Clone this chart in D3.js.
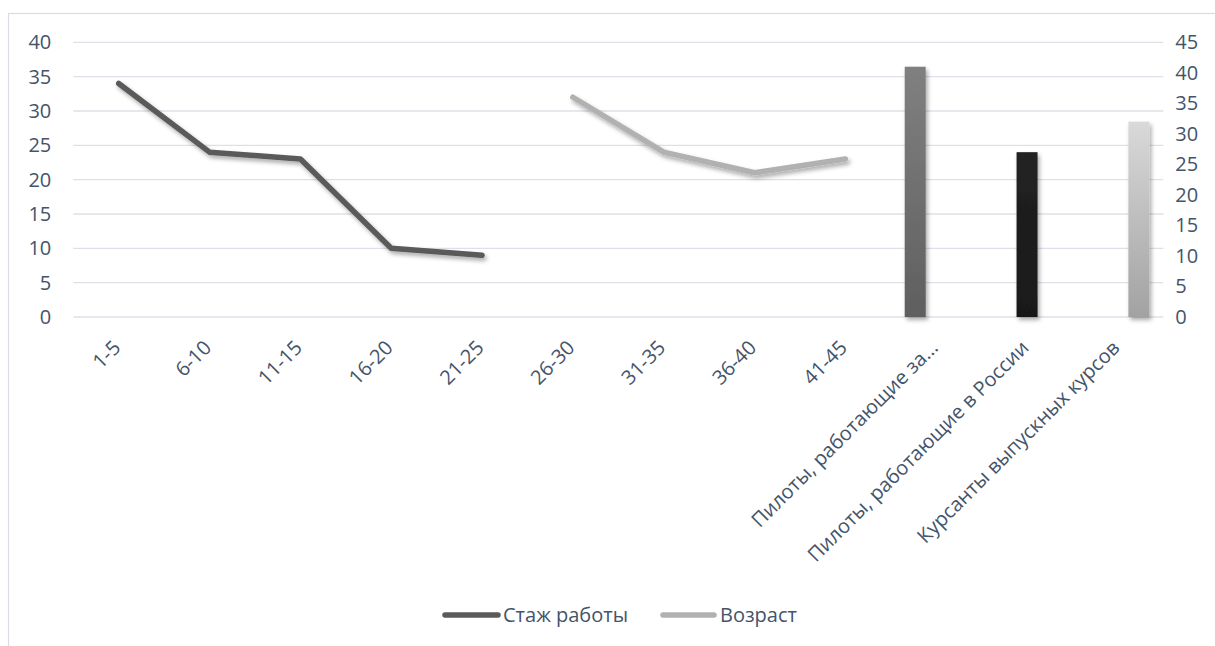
<!DOCTYPE html>
<html>
<head>
<meta charset="utf-8">
<script src="https://cdn.jsdelivr.net/npm/d3@7/dist/d3.min.js"></script>
<style>
  html, body { margin: 0; padding: 0; background: #fff; }
  svg { display: block; font-family: "Open Sans", "Noto Sans", sans-serif; }
</style>
</head>
<body>
<svg id="chart" width="1215" height="646"></svg>
<script>
// Categories along the shared horizontal axis
const categories = [
  "1-5", "6-10", "11-15", "16-20", "21-25",
  "26-30", "31-35", "36-40", "41-45",
  "Пилоты, работающие за...", "Пилоты, работающие в России", "Курсанты выпускных курсов"
];

// Line series (left axis)
const experienceCats = ["1-5", "6-10", "11-15", "16-20", "21-25"];
const experienceValues = [34, 24, 23, 10, 9];
const ageCats = ["26-30", "31-35", "36-40", "41-45"];
const ageValues = [32, 24, 21, 23];

// Column series (right axis), one value per group
const barSeries = ["Пилоты, работающие за...", "Пилоты, работающие в России", "Курсанты выпускных курсов"];
const barValues = [41, 27, 32];

// Axis ticks
const leftTicks = [0, 5, 10, 15, 20, 25, 30, 35, 40];
const rightTicks = [0, 5, 10, 15, 20, 25, 30, 35, 40, 45];

const legendNames = ["Стаж работы", "Возраст"];

const textColor = "#44546a";
const gridColor = "#dde1e7";

const svg = d3.select("#chart");
const defs = svg.append("defs");

// soft shadow under lines and columns
const shadow = defs.append("filter").attr("id", "shadow")
  .attr("x", "-20%").attr("y", "-20%").attr("width", "140%").attr("height", "140%");
shadow.append("feDropShadow")
  .attr("dx", 2).attr("dy", 3).attr("stdDeviation", 2)
  .attr("flood-color", "#000").attr("flood-opacity", 0.33);

const gradients = [
  { id: "g0", top: "#808080", bottom: "#5f5f5f" },
  { id: "g1", top: "#222222", bottom: "#191919" },
  { id: "g2", top: "#d9d9d9", bottom: "#a2a2a2" }
];
gradients.forEach(g => {
  const lg = defs.append("linearGradient").attr("id", g.id)
    .attr("x1", 0).attr("y1", 0).attr("x2", 0).attr("y2", 1);
  lg.append("stop").attr("offset", "0%").attr("stop-color", g.top);
  lg.append("stop").attr("offset", "100%").attr("stop-color", g.bottom);
});

// chart frame
svg.append("rect")
  .attr("x", 8.5).attr("y", 13.5).attr("width", 1240).attr("height", 660)
  .attr("fill", "none").attr("stroke", "#d9dde3").attr("stroke-width", 1.2);

const plotLeft = 73.3, plotRight = 1163.3, plotTop = 42.3, plotBottom = 317;

const x = d3.scaleBand().domain(categories).range([plotLeft, plotRight]).padding(0);
const yL = d3.scaleLinear().domain([0, 40]).range([plotBottom, plotTop]);
const yR = d3.scaleLinear().domain([0, 45]).range([plotBottom, plotTop]);
const cx = c => x(c) + x.bandwidth() / 2;

// gridlines
svg.append("g").selectAll("line").data(leftTicks).join("line")
  .attr("x1", plotLeft).attr("x2", plotRight)
  .attr("y1", d => yL(d)).attr("y2", d => yL(d))
  .attr("stroke", gridColor).attr("stroke-width", 1.3);

// left axis
const leftAxis = svg.append("g")
  .attr("transform", `translate(${plotLeft - 22},0)`)
  .call(d3.axisLeft(yL).tickValues(leftTicks).tickSize(0).tickPadding(0));
leftAxis.select(".domain").remove();
leftAxis.selectAll("text").attr("fill", textColor).style("font-size", "20px")
  .attr("font-family", "Open Sans");

// right axis
const rightAxis = svg.append("g")
  .attr("transform", `translate(${plotRight + 12},0)`)
  .call(d3.axisRight(yR).tickValues(rightTicks).tickSize(0).tickPadding(0));
rightAxis.select(".domain").remove();
rightAxis.selectAll("text").attr("fill", textColor).style("font-size", "20px")
  .attr("font-family", "Open Sans");

// columns, clustered within each group by series
const sub = d3.scaleBand().domain(barSeries).range([-31.5, 31.5]).padding(0);
svg.append("g").attr("filter", "url(#shadow)")
  .selectAll("rect").data(barSeries).join("rect")
  .attr("x", (d, i) => cx(d) + sub(d))
  .attr("width", sub.bandwidth())
  .attr("y", (d, i) => yR(barValues[i]))
  .attr("height", (d, i) => yR(0) - yR(barValues[i]))
  .attr("fill", (d, i) => `url(#${gradients[i].id})`);

// lines
const line = d3.line().x(d => cx(d[0])).y(d => yL(d[1]));
const lines = [
  { pts: d3.zip(experienceCats, experienceValues), color: "#5a5a5a" },
  { pts: d3.zip(ageCats, ageValues), color: "#b1b1b1" }
];
svg.append("g").attr("filter", "url(#shadow)")
  .selectAll("path").data(lines).join("path")
  .attr("d", d => line(d.pts))
  .attr("fill", "none")
  .attr("stroke", d => d.color)
  .attr("stroke-width", 5.5)
  .attr("stroke-linecap", "round")
  .attr("stroke-linejoin", "round");

// category labels, rotated
svg.append("g").selectAll("text").data(categories).join("text")
  .attr("transform", d => `translate(${cx(d) + 3},${349}) rotate(-45)`)
  .attr("text-anchor", "end")
  .attr("fill", textColor)
  .style("font-size", "20px")
  .text(d => d);

// legend
const legendItems = [
  { name: legendNames[0], color: "#5a5a5a", x1: 443, x2: 500, tx: 503 },
  { name: legendNames[1], color: "#b1b1b1", x1: 661, x2: 716, tx: 720 }
];
const legendY = 615;
const lg = svg.append("g");
legendItems.forEach(it => {
  lg.append("line")
    .attr("x1", it.x1 + 2).attr("x2", it.x2 - 2)
    .attr("y1", legendY).attr("y2", legendY)
    .attr("stroke", it.color).attr("stroke-width", 5.5).attr("stroke-linecap", "round");
  lg.append("text")
    .attr("x", it.tx).attr("y", legendY).attr("dy", "0.35em")
    .attr("fill", textColor).style("font-size", "20px")
    .text(it.name);
});
</script>
</body>
</html>
